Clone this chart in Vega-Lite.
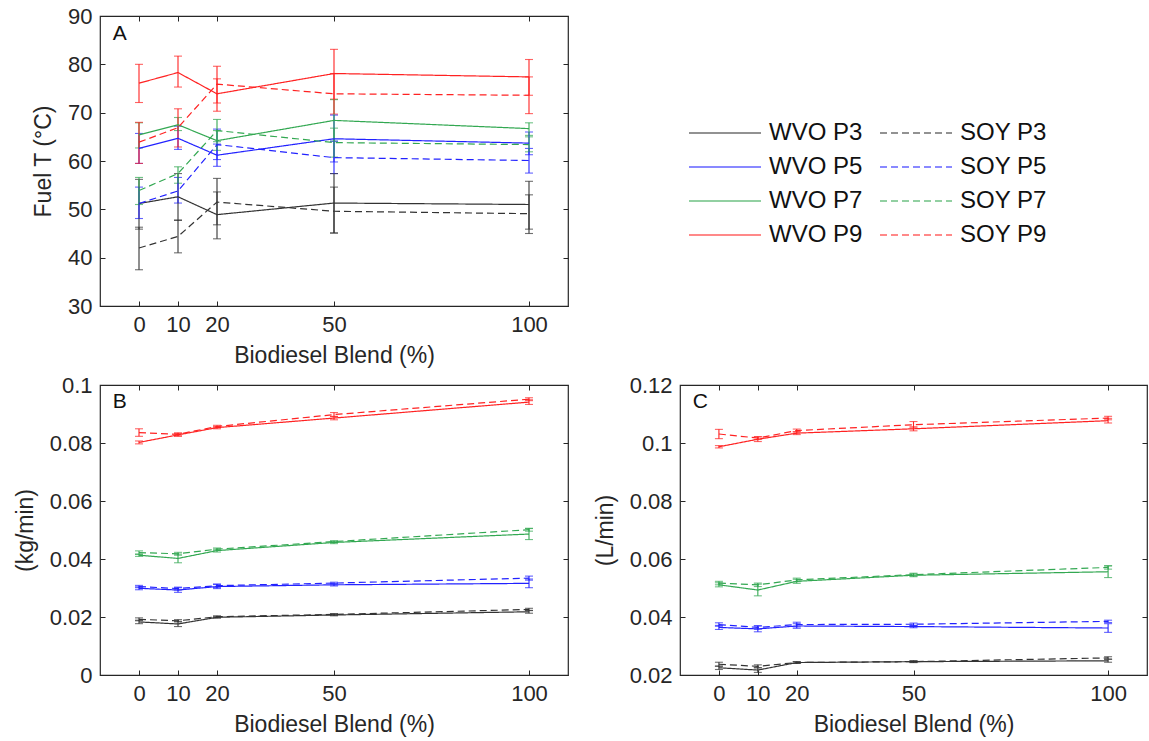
{
  "$schema": "https://vega.github.io/schema/vega-lite/v6.json",
  "padding": {"left": 13, "top": 4, "right": 0, "bottom": 0},
  "background": "white",
  "datasets": {
    "A": [
      {"s": "WVO P3", "x": 0, "v": 51.2, "lo": 45.9, "hi": 56.2},
      {"s": "WVO P3", "x": 10, "v": 52.6, "lo": 47.7, "hi": 57.4},
      {"s": "WVO P3", "x": 20, "v": 48.9, "lo": 43.9, "hi": 53.6},
      {"s": "WVO P3", "x": 50, "v": 51.3, "lo": 45.1, "hi": 57.4},
      {"s": "WVO P3", "x": 100, "v": 51.0, "lo": 45.9, "hi": 55.8},
      {"s": "SOY P3", "x": 0, "v": 42.0, "lo": 37.5, "hi": 46.3},
      {"s": "SOY P3", "x": 10, "v": 44.4, "lo": 41.0, "hi": 47.8},
      {"s": "SOY P3", "x": 20, "v": 51.5, "lo": 46.8, "hi": 56.4},
      {"s": "SOY P3", "x": 50, "v": 49.6, "lo": 45.1, "hi": 54.6},
      {"s": "SOY P3", "x": 100, "v": 49.1, "lo": 45.0, "hi": 53.0},
      {"s": "WVO P5", "x": 0, "v": 62.6, "lo": 59.5, "hi": 65.7},
      {"s": "WVO P5", "x": 10, "v": 64.7, "lo": 62.4, "hi": 67.2},
      {"s": "WVO P5", "x": 20, "v": 61.2, "lo": 58.9, "hi": 63.5},
      {"s": "WVO P5", "x": 50, "v": 64.6, "lo": 59.8, "hi": 69.5},
      {"s": "WVO P5", "x": 100, "v": 63.7, "lo": 61.3, "hi": 66.0},
      {"s": "SOY P5", "x": 0, "v": 51.2, "lo": 48.1, "hi": 54.6},
      {"s": "SOY P5", "x": 10, "v": 53.8, "lo": 51.3, "hi": 56.6},
      {"s": "SOY P5", "x": 20, "v": 63.4, "lo": 60.3, "hi": 66.6},
      {"s": "SOY P5", "x": 50, "v": 60.7, "lo": 57.4, "hi": 64.1},
      {"s": "SOY P5", "x": 100, "v": 60.1, "lo": 57.5, "hi": 62.6},
      {"s": "WVO P7", "x": 0, "v": 65.4, "lo": 62.7, "hi": 67.9},
      {"s": "WVO P7", "x": 10, "v": 67.5, "lo": 66.3, "hi": 69.0},
      {"s": "WVO P7", "x": 20, "v": 64.2, "lo": 62.2, "hi": 66.3},
      {"s": "WVO P7", "x": 50, "v": 68.4, "lo": 64.1, "hi": 72.7},
      {"s": "WVO P7", "x": 100, "v": 66.7, "lo": 65.3, "hi": 67.9},
      {"s": "SOY P7", "x": 0, "v": 53.9, "lo": 51.0, "hi": 56.6},
      {"s": "SOY P7", "x": 10, "v": 57.4, "lo": 55.4, "hi": 58.8},
      {"s": "SOY P7", "x": 20, "v": 66.3, "lo": 64.0, "hi": 68.6},
      {"s": "SOY P7", "x": 50, "v": 63.8, "lo": 60.8, "hi": 66.8},
      {"s": "SOY P7", "x": 100, "v": 63.4, "lo": 61.9, "hi": 65.0},
      {"s": "WVO P9", "x": 0, "v": 76.1, "lo": 72.1, "hi": 80.0},
      {"s": "WVO P9", "x": 10, "v": 78.3, "lo": 75.3, "hi": 81.7},
      {"s": "WVO P9", "x": 20, "v": 73.9, "lo": 70.3, "hi": 77.0},
      {"s": "WVO P9", "x": 50, "v": 78.1, "lo": 72.8, "hi": 83.1},
      {"s": "WVO P9", "x": 100, "v": 77.4, "lo": 73.6, "hi": 81.0},
      {"s": "SOY P9", "x": 0, "v": 63.9, "lo": 59.5, "hi": 68.0},
      {"s": "SOY P9", "x": 10, "v": 66.9, "lo": 62.9, "hi": 70.8},
      {"s": "SOY P9", "x": 20, "v": 75.9, "lo": 72.0, "hi": 79.6},
      {"s": "SOY P9", "x": 50, "v": 73.9, "lo": 69.7, "hi": 78.1},
      {"s": "SOY P9", "x": 100, "v": 73.6, "lo": 69.8, "hi": 77.4}
    ],
    "B": [
      {"s": "WVO P3", "x": 0, "v": 0.0183, "lo": 0.0177, "hi": 0.0189},
      {"s": "WVO P3", "x": 10, "v": 0.0176, "lo": 0.0167, "hi": 0.0185},
      {"s": "WVO P3", "x": 20, "v": 0.0199, "lo": 0.0196, "hi": 0.0202},
      {"s": "WVO P3", "x": 50, "v": 0.0207, "lo": 0.0204, "hi": 0.0210},
      {"s": "WVO P3", "x": 100, "v": 0.0218, "lo": 0.0213, "hi": 0.0223},
      {"s": "SOY P3", "x": 0, "v": 0.0192, "lo": 0.0187, "hi": 0.0197},
      {"s": "SOY P3", "x": 10, "v": 0.0187, "lo": 0.0183, "hi": 0.0191},
      {"s": "SOY P3", "x": 20, "v": 0.0201, "lo": 0.0198, "hi": 0.0204},
      {"s": "SOY P3", "x": 50, "v": 0.0209, "lo": 0.0206, "hi": 0.0212},
      {"s": "SOY P3", "x": 100, "v": 0.0226, "lo": 0.0222, "hi": 0.0230},
      {"s": "WVO P5", "x": 0, "v": 0.0299, "lo": 0.0294, "hi": 0.0304},
      {"s": "WVO P5", "x": 10, "v": 0.0293, "lo": 0.0285, "hi": 0.0301},
      {"s": "WVO P5", "x": 20, "v": 0.0305, "lo": 0.0298, "hi": 0.0312},
      {"s": "WVO P5", "x": 50, "v": 0.0311, "lo": 0.0307, "hi": 0.0315},
      {"s": "WVO P5", "x": 100, "v": 0.0316, "lo": 0.0301, "hi": 0.0331},
      {"s": "SOY P5", "x": 0, "v": 0.0305, "lo": 0.0301, "hi": 0.0309},
      {"s": "SOY P5", "x": 10, "v": 0.0298, "lo": 0.0293, "hi": 0.0303},
      {"s": "SOY P5", "x": 20, "v": 0.0308, "lo": 0.0302, "hi": 0.0314},
      {"s": "SOY P5", "x": 50, "v": 0.0317, "lo": 0.0314, "hi": 0.0320},
      {"s": "SOY P5", "x": 100, "v": 0.0334, "lo": 0.0327, "hi": 0.0341},
      {"s": "WVO P7", "x": 0, "v": 0.0413, "lo": 0.0409, "hi": 0.0417},
      {"s": "WVO P7", "x": 10, "v": 0.0402, "lo": 0.0387, "hi": 0.0417},
      {"s": "WVO P7", "x": 20, "v": 0.0429, "lo": 0.0424, "hi": 0.0434},
      {"s": "WVO P7", "x": 50, "v": 0.0457, "lo": 0.0453, "hi": 0.0461},
      {"s": "WVO P7", "x": 100, "v": 0.0486, "lo": 0.0467, "hi": 0.0505},
      {"s": "SOY P7", "x": 0, "v": 0.0422, "lo": 0.0416, "hi": 0.0428},
      {"s": "SOY P7", "x": 10, "v": 0.0418, "lo": 0.0413, "hi": 0.0423},
      {"s": "SOY P7", "x": 20, "v": 0.0434, "lo": 0.0430, "hi": 0.0438},
      {"s": "SOY P7", "x": 50, "v": 0.0460, "lo": 0.0457, "hi": 0.0463},
      {"s": "SOY P7", "x": 100, "v": 0.0501, "lo": 0.0496, "hi": 0.0506},
      {"s": "WVO P9", "x": 0, "v": 0.0802, "lo": 0.0797, "hi": 0.0807},
      {"s": "WVO P9", "x": 10, "v": 0.0828, "lo": 0.0823, "hi": 0.0833},
      {"s": "WVO P9", "x": 20, "v": 0.0853, "lo": 0.0849, "hi": 0.0857},
      {"s": "WVO P9", "x": 50, "v": 0.0886, "lo": 0.0880, "hi": 0.0892},
      {"s": "WVO P9", "x": 100, "v": 0.0941, "lo": 0.0933, "hi": 0.0949},
      {"s": "SOY P9", "x": 0, "v": 0.0836, "lo": 0.0823, "hi": 0.0849},
      {"s": "SOY P9", "x": 10, "v": 0.0830, "lo": 0.0825, "hi": 0.0835},
      {"s": "SOY P9", "x": 20, "v": 0.0857, "lo": 0.0853, "hi": 0.0861},
      {"s": "SOY P9", "x": 50, "v": 0.0898, "lo": 0.0891, "hi": 0.0905},
      {"s": "SOY P9", "x": 100, "v": 0.0951, "lo": 0.0946, "hi": 0.0956}
    ],
    "C": [
      {"s": "WVO P3", "x": 0, "v": 0.0225, "lo": 0.0219, "hi": 0.0231},
      {"s": "WVO P3", "x": 10, "v": 0.0217, "lo": 0.0209, "hi": 0.0225},
      {"s": "WVO P3", "x": 20, "v": 0.0243, "lo": 0.0240, "hi": 0.0246},
      {"s": "WVO P3", "x": 50, "v": 0.0246, "lo": 0.0243, "hi": 0.0249},
      {"s": "WVO P3", "x": 100, "v": 0.0249, "lo": 0.0244, "hi": 0.0254},
      {"s": "SOY P3", "x": 0, "v": 0.0237, "lo": 0.0230, "hi": 0.0244},
      {"s": "SOY P3", "x": 10, "v": 0.0230, "lo": 0.0225, "hi": 0.0235},
      {"s": "SOY P3", "x": 20, "v": 0.0243, "lo": 0.0240, "hi": 0.0246},
      {"s": "SOY P3", "x": 50, "v": 0.0246, "lo": 0.0243, "hi": 0.0249},
      {"s": "SOY P3", "x": 100, "v": 0.0259, "lo": 0.0255, "hi": 0.0263},
      {"s": "WVO P5", "x": 0, "v": 0.0364, "lo": 0.0357, "hi": 0.0371},
      {"s": "WVO P5", "x": 10, "v": 0.0359, "lo": 0.0349, "hi": 0.0369},
      {"s": "WVO P5", "x": 20, "v": 0.0369, "lo": 0.0361, "hi": 0.0377},
      {"s": "WVO P5", "x": 50, "v": 0.0367, "lo": 0.0363, "hi": 0.0371},
      {"s": "WVO P5", "x": 100, "v": 0.0362, "lo": 0.0347, "hi": 0.0377},
      {"s": "SOY P5", "x": 0, "v": 0.0374, "lo": 0.0368, "hi": 0.0380},
      {"s": "SOY P5", "x": 10, "v": 0.0364, "lo": 0.0358, "hi": 0.0370},
      {"s": "SOY P5", "x": 20, "v": 0.0374, "lo": 0.0366, "hi": 0.0382},
      {"s": "SOY P5", "x": 50, "v": 0.0375, "lo": 0.0371, "hi": 0.0379},
      {"s": "SOY P5", "x": 100, "v": 0.0385, "lo": 0.0381, "hi": 0.0389},
      {"s": "WVO P7", "x": 0, "v": 0.0511, "lo": 0.0504, "hi": 0.0518},
      {"s": "WVO P7", "x": 10, "v": 0.0493, "lo": 0.0473, "hi": 0.0513},
      {"s": "WVO P7", "x": 20, "v": 0.0523, "lo": 0.0516, "hi": 0.0530},
      {"s": "WVO P7", "x": 50, "v": 0.0544, "lo": 0.0539, "hi": 0.0549},
      {"s": "WVO P7", "x": 100, "v": 0.0556, "lo": 0.0536, "hi": 0.0576},
      {"s": "SOY P7", "x": 0, "v": 0.0517, "lo": 0.0511, "hi": 0.0523},
      {"s": "SOY P7", "x": 10, "v": 0.0511, "lo": 0.0505, "hi": 0.0517},
      {"s": "SOY P7", "x": 20, "v": 0.0528, "lo": 0.0522, "hi": 0.0534},
      {"s": "SOY P7", "x": 50, "v": 0.0546, "lo": 0.0541, "hi": 0.0551},
      {"s": "SOY P7", "x": 100, "v": 0.0571, "lo": 0.0565, "hi": 0.0577},
      {"s": "WVO P9", "x": 0, "v": 0.0987, "lo": 0.0983, "hi": 0.0991},
      {"s": "WVO P9", "x": 10, "v": 0.1013, "lo": 0.1005, "hi": 0.1021},
      {"s": "WVO P9", "x": 20, "v": 0.1034, "lo": 0.1029, "hi": 0.1039},
      {"s": "WVO P9", "x": 50, "v": 0.1049, "lo": 0.1042, "hi": 0.1056},
      {"s": "WVO P9", "x": 100, "v": 0.1077, "lo": 0.1069, "hi": 0.1085},
      {"s": "SOY P9", "x": 0, "v": 0.1031, "lo": 0.1015, "hi": 0.1047},
      {"s": "SOY P9", "x": 10, "v": 0.1017, "lo": 0.1012, "hi": 0.1022},
      {"s": "SOY P9", "x": 20, "v": 0.1043, "lo": 0.1038, "hi": 0.1048},
      {"s": "SOY P9", "x": 50, "v": 0.1063, "lo": 0.1052, "hi": 0.1074},
      {"s": "SOY P9", "x": 100, "v": 0.1086, "lo": 0.1080, "hi": 0.1092}
    ]
  },
  "columns": 2,
  "spacing": {"row": 5, "column": 23},
  "concat": [
    {
      "width": 468, "height": 290,
      "data": {"name": "A"},
      "resolve": {"axis": {"x": "independent", "y": "independent"}},
      "layer": [
        {
          "mark": {"type": "errorbar", "ticks": {"size": 8}, "thickness": 1.1},
          "encoding": {
            "x": {"field": "x", "type": "quantitative", "scale": {"domain": [-10, 110], "nice": false}, "axis": null},
            "y": {"field": "lo", "type": "quantitative", "scale": {"domain": [30, 90], "nice": false}, "axis": null},
            "y2": {"field": "hi"},
            "color": {"field": "s", "type": "nominal", "scale": {"domain": ["WVO P3", "WVO P5", "WVO P7", "WVO P9", "SOY P3", "SOY P5", "SOY P7", "SOY P9"], "range": ["#333333", "#2222ff", "#33a852", "#ff2222", "#333333", "#2222ff", "#33a852", "#ff2222"]},
              "legend": {"title": null, "orient": "none", "legendX": 587, "legendY": 105, "columns": 2, "columnPadding": 14, "rowPadding": 10, "symbolType": "M-1,0H6.2", "symbolSize": 400, "symbolStrokeWidth": 1.5, "labelFontSize": 24, "labelOffset": 58, "labelColor": "#111111", "padding": 0}}
          }
        },
        {
          "mark": {"type": "line", "strokeWidth": 1.2},
          "encoding": {
            "x": {"field": "x", "type": "quantitative", "scale": {"domain": [-10, 110], "nice": false}, "axis": {"values": [0, 10, 20, 50, 100], "title": "Biodiesel Blend (%)"}},
            "y": {"field": "v", "type": "quantitative", "scale": {"domain": [30, 90], "nice": false}, "axis": {"values": [30, 40, 50, 60, 70, 80, 90], "title": "Fuel T (°C)"}},
            "color": {"field": "s", "type": "nominal", "scale": {"domain": ["WVO P3", "WVO P5", "WVO P7", "WVO P9", "SOY P3", "SOY P5", "SOY P7", "SOY P9"], "range": ["#333333", "#2222ff", "#33a852", "#ff2222", "#333333", "#2222ff", "#33a852", "#ff2222"]},
              "legend": {"title": null, "orient": "none", "legendX": 587, "legendY": 105, "columns": 2, "columnPadding": 14, "rowPadding": 10, "symbolType": "M-1,0H6.2", "symbolSize": 400, "symbolStrokeWidth": 1.5, "labelFontSize": 24, "labelOffset": 58, "labelColor": "#111111", "padding": 0}},
            "strokeDash": {"field": "s", "type": "nominal", "scale": {"domain": ["WVO P3", "WVO P5", "WVO P7", "WVO P9", "SOY P3", "SOY P5", "SOY P7", "SOY P9"], "range": [[1, 0], [1, 0], [1, 0], [1, 0], [7, 4], [7, 4], [7, 4], [7, 4]]},
              "legend": {"title": null, "orient": "none", "legendX": 587, "legendY": 105, "columns": 2, "columnPadding": 14, "rowPadding": 10, "symbolType": "M-1,0H6.2", "symbolSize": 400, "symbolStrokeWidth": 1.5, "labelFontSize": 24, "labelOffset": 58, "labelColor": "#111111", "padding": 0}}
          }
        },
        {
          "mark": {"type": "point", "opacity": 0},
          "encoding": {
            "x": {"field": "x", "type": "quantitative", "scale": {"domain": [-10, 110], "nice": false}, "axis": {"orient": "top", "values": [0, 10, 20, 50, 100], "labels": false, "title": null}},
            "y": {"field": "v", "type": "quantitative", "scale": {"domain": [30, 90], "nice": false}, "axis": {"orient": "right", "values": [30, 40, 50, 60, 70, 80, 90], "labels": false, "title": null}}
          }
        },
        {
          "data": {"values": [{}]},
          "mark": {"type": "text", "text": "A", "align": "left", "baseline": "middle", "fontSize": 21, "color": "#111111"},
          "encoding": {
            "x": {"datum": -6.7, "type": "quantitative", "scale": {"domain": [-10, 110], "nice": false}, "axis": null},
            "y": {"datum": 86.2, "type": "quantitative", "scale": {"domain": [30, 90], "nice": false}, "axis": null}
          }
        }
      ]
    },
    {
      "width": 100, "height": 100,
      "view": {"stroke": null},
      "data": {"values": [{}]},
      "mark": {"type": "point", "opacity": 0}
    },
    {
      "width": 468, "height": 290,
      "data": {"name": "B"},
      "resolve": {"axis": {"x": "independent", "y": "independent"}},
      "layer": [
        {
          "mark": {"type": "errorbar", "ticks": {"size": 8}, "thickness": 1.1},
          "encoding": {
            "x": {"field": "x", "type": "quantitative", "scale": {"domain": [-10, 110], "nice": false}, "axis": null},
            "y": {"field": "lo", "type": "quantitative", "scale": {"domain": [0, 0.1], "nice": false}, "axis": null},
            "y2": {"field": "hi"},
            "color": {"field": "s", "type": "nominal", "scale": {"domain": ["WVO P3", "WVO P5", "WVO P7", "WVO P9", "SOY P3", "SOY P5", "SOY P7", "SOY P9"], "range": ["#333333", "#2222ff", "#33a852", "#ff2222", "#333333", "#2222ff", "#33a852", "#ff2222"]},
              "legend": {"title": null, "orient": "none", "legendX": 587, "legendY": 105, "columns": 2, "columnPadding": 14, "rowPadding": 10, "symbolType": "M-1,0H6.2", "symbolSize": 400, "symbolStrokeWidth": 1.5, "labelFontSize": 24, "labelOffset": 58, "labelColor": "#111111", "padding": 0}}
          }
        },
        {
          "mark": {"type": "line", "strokeWidth": 1.2},
          "encoding": {
            "x": {"field": "x", "type": "quantitative", "scale": {"domain": [-10, 110], "nice": false}, "axis": {"values": [0, 10, 20, 50, 100], "title": "Biodiesel Blend (%)"}},
            "y": {"field": "v", "type": "quantitative", "scale": {"domain": [0, 0.1], "nice": false}, "axis": {"values": [0, 0.02, 0.04, 0.06, 0.08, 0.1], "format": ".2~f", "title": "(kg/min)"}},
            "color": {"field": "s", "type": "nominal", "scale": {"domain": ["WVO P3", "WVO P5", "WVO P7", "WVO P9", "SOY P3", "SOY P5", "SOY P7", "SOY P9"], "range": ["#333333", "#2222ff", "#33a852", "#ff2222", "#333333", "#2222ff", "#33a852", "#ff2222"]},
              "legend": {"title": null, "orient": "none", "legendX": 587, "legendY": 105, "columns": 2, "columnPadding": 14, "rowPadding": 10, "symbolType": "M-1,0H6.2", "symbolSize": 400, "symbolStrokeWidth": 1.5, "labelFontSize": 24, "labelOffset": 58, "labelColor": "#111111", "padding": 0}},
            "strokeDash": {"field": "s", "type": "nominal", "scale": {"domain": ["WVO P3", "WVO P5", "WVO P7", "WVO P9", "SOY P3", "SOY P5", "SOY P7", "SOY P9"], "range": [[1, 0], [1, 0], [1, 0], [1, 0], [7, 4], [7, 4], [7, 4], [7, 4]]},
              "legend": {"title": null, "orient": "none", "legendX": 587, "legendY": 105, "columns": 2, "columnPadding": 14, "rowPadding": 10, "symbolType": "M-1,0H6.2", "symbolSize": 400, "symbolStrokeWidth": 1.5, "labelFontSize": 24, "labelOffset": 58, "labelColor": "#111111", "padding": 0}}
          }
        },
        {
          "mark": {"type": "point", "opacity": 0},
          "encoding": {
            "x": {"field": "x", "type": "quantitative", "scale": {"domain": [-10, 110], "nice": false}, "axis": {"orient": "top", "values": [0, 10, 20, 50, 100], "labels": false, "title": null}},
            "y": {"field": "v", "type": "quantitative", "scale": {"domain": [0, 0.1], "nice": false}, "axis": {"orient": "right", "values": [0, 0.02, 0.04, 0.06, 0.08, 0.1], "labels": false, "title": null}}
          }
        },
        {
          "data": {"values": [{}]},
          "mark": {"type": "text", "text": "B", "align": "left", "baseline": "middle", "fontSize": 21, "color": "#111111"},
          "encoding": {
            "x": {"datum": -6.7, "type": "quantitative", "scale": {"domain": [-10, 110], "nice": false}, "axis": null},
            "y": {"datum": 0.0941, "type": "quantitative", "scale": {"domain": [0, 0.1], "nice": false}, "axis": null}
          }
        }
      ]
    },
    {
      "width": 467, "height": 290,
      "data": {"name": "C"},
      "resolve": {"axis": {"x": "independent", "y": "independent"}},
      "layer": [
        {
          "mark": {"type": "errorbar", "ticks": {"size": 8}, "thickness": 1.1},
          "encoding": {
            "x": {"field": "x", "type": "quantitative", "scale": {"domain": [-10, 110], "nice": false}, "axis": null},
            "y": {"field": "lo", "type": "quantitative", "scale": {"domain": [0.02, 0.12], "nice": false}, "axis": null},
            "y2": {"field": "hi"},
            "color": {"field": "s", "type": "nominal", "scale": {"domain": ["WVO P3", "WVO P5", "WVO P7", "WVO P9", "SOY P3", "SOY P5", "SOY P7", "SOY P9"], "range": ["#333333", "#2222ff", "#33a852", "#ff2222", "#333333", "#2222ff", "#33a852", "#ff2222"]},
              "legend": {"title": null, "orient": "none", "legendX": 587, "legendY": 105, "columns": 2, "columnPadding": 14, "rowPadding": 10, "symbolType": "M-1,0H6.2", "symbolSize": 400, "symbolStrokeWidth": 1.5, "labelFontSize": 24, "labelOffset": 58, "labelColor": "#111111", "padding": 0}}
          }
        },
        {
          "mark": {"type": "line", "strokeWidth": 1.2},
          "encoding": {
            "x": {"field": "x", "type": "quantitative", "scale": {"domain": [-10, 110], "nice": false}, "axis": {"values": [0, 10, 20, 50, 100], "title": "Biodiesel Blend (%)"}},
            "y": {"field": "v", "type": "quantitative", "scale": {"domain": [0.02, 0.12], "nice": false}, "axis": {"values": [0.02, 0.04, 0.06, 0.08, 0.1, 0.12], "format": ".2~f", "title": "(L/min)"}},
            "color": {"field": "s", "type": "nominal", "scale": {"domain": ["WVO P3", "WVO P5", "WVO P7", "WVO P9", "SOY P3", "SOY P5", "SOY P7", "SOY P9"], "range": ["#333333", "#2222ff", "#33a852", "#ff2222", "#333333", "#2222ff", "#33a852", "#ff2222"]},
              "legend": {"title": null, "orient": "none", "legendX": 587, "legendY": 105, "columns": 2, "columnPadding": 14, "rowPadding": 10, "symbolType": "M-1,0H6.2", "symbolSize": 400, "symbolStrokeWidth": 1.5, "labelFontSize": 24, "labelOffset": 58, "labelColor": "#111111", "padding": 0}},
            "strokeDash": {"field": "s", "type": "nominal", "scale": {"domain": ["WVO P3", "WVO P5", "WVO P7", "WVO P9", "SOY P3", "SOY P5", "SOY P7", "SOY P9"], "range": [[1, 0], [1, 0], [1, 0], [1, 0], [7, 4], [7, 4], [7, 4], [7, 4]]},
              "legend": {"title": null, "orient": "none", "legendX": 587, "legendY": 105, "columns": 2, "columnPadding": 14, "rowPadding": 10, "symbolType": "M-1,0H6.2", "symbolSize": 400, "symbolStrokeWidth": 1.5, "labelFontSize": 24, "labelOffset": 58, "labelColor": "#111111", "padding": 0}}
          }
        },
        {
          "mark": {"type": "point", "opacity": 0},
          "encoding": {
            "x": {"field": "x", "type": "quantitative", "scale": {"domain": [-10, 110], "nice": false}, "axis": {"orient": "top", "values": [0, 10, 20, 50, 100], "labels": false, "title": null}},
            "y": {"field": "v", "type": "quantitative", "scale": {"domain": [0.02, 0.12], "nice": false}, "axis": {"orient": "right", "values": [0.02, 0.04, 0.06, 0.08, 0.1, 0.12], "labels": false, "title": null}}
          }
        },
        {
          "data": {"values": [{}]},
          "mark": {"type": "text", "text": "C", "align": "left", "baseline": "middle", "fontSize": 21, "color": "#111111"},
          "encoding": {
            "x": {"datum": -6.7, "type": "quantitative", "scale": {"domain": [-10, 110], "nice": false}, "axis": null},
            "y": {"datum": 0.1141, "type": "quantitative", "scale": {"domain": [0.02, 0.12], "nice": false}, "axis": null}
          }
        }
      ]
    }
  ],
  "config": {
    "font": "Liberation Sans",
    "view": {"stroke": "#262626", "strokeWidth": 1.2},
    "axis": {"domain": false, "grid": false, "tickSize": -5, "tickColor": "#262626", "tickWidth": 1, "labelFontSize": 22, "labelColor": "#262626", "labelOverlap": false, "labelFlush": false, "titleFontSize": 23, "titleFontWeight": "normal", "titleColor": "#262626"},
    "axisX": {"labelPadding": 13, "titlePadding": 9},
    "axisY": {"labelPadding": 13, "titlePadding": 12}
  }
}
